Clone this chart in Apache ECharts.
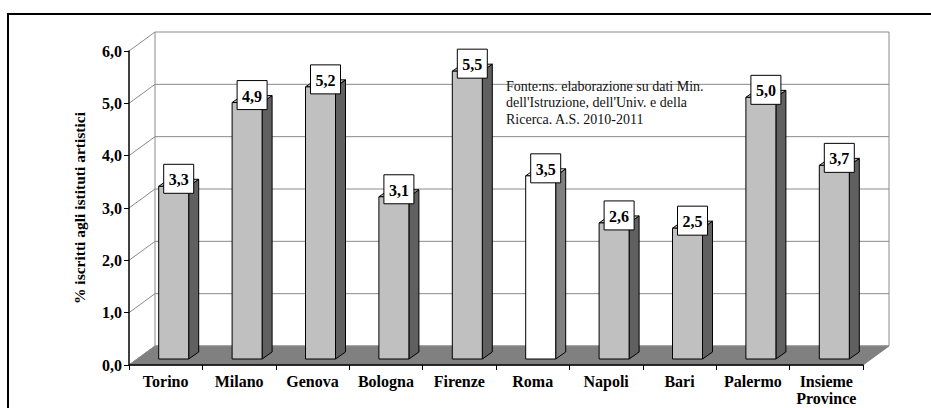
<!DOCTYPE html>
<html>
<head>
<meta charset="utf-8">
<script src="https://cdn.jsdelivr.net/npm/echarts@6/dist/echarts.min.js"></script>
<style>
  html, body { margin: 0; padding: 0; background: #fff; }
  #chart { width: 931px; height: 408px; }
</style>
</head>
<body>
<div id="chart"></div>
<script>
// Iscritti agli istituti artistici, per provincia (%)
const categories = ['Torino', 'Milano', 'Genova', 'Bologna', 'Firenze', 'Roma', 'Napoli', 'Bari', 'Palermo', 'Insieme\nProvince'];
const values = [3.3, 4.9, 5.2, 3.1, 5.5, 3.5, 2.6, 2.5, 5.0, 3.7];
const yTicks = [0, 1, 2, 3, 4, 5, 6];
const highlightCategory = 'Roma';
const axisTitle = '% iscritti agli istituti artistici';
const sourceNote = "Fonte:ns. elaborazione su dati Min.\ndell'Istruzione, dell'Univ. e della\nRicerca. A.S. 2010-2011";

// pseudo-3D geometry (pixels)
const DEPTH = [26, -19];      // floor depth: front edge -> back wall
const BAR_SHIFT = [8, -6];    // bar front face offset into the floor
const BAR_SIDE = [10, -7];    // bar thickness (side/top faces)
const BAR_W = 30;
const SERIF = 'Liberation Serif';

const fmt = v => v.toFixed(1).replace('.', ',');
const yMin = yTicks[0], yMax = yTicks[yTicks.length - 1];

function renderWalls(params, api) {
  const cs = params.coordSys;
  const v = api.value(1);
  const y = api.coord([0, v])[1];
  const x0 = cs.x, x1 = cs.x + cs.width;
  const children = [];
  if (v === yMin) {
    children.push({
      type: 'polygon',
      shape: { points: [[x0, y], [x1, y], [x1 + DEPTH[0], y + DEPTH[1]], [x0 + DEPTH[0], y + DEPTH[1]]] },
      style: { fill: '#808080', stroke: '#808080', lineWidth: 1 }
    });
  }
  children.push({
    type: 'polyline',
    shape: { points: [[x0, y], [x0 + DEPTH[0], y + DEPTH[1]], [x1 + DEPTH[0], y + DEPTH[1]]] },
    style: { stroke: '#8a8a8a', lineWidth: 1, fill: null }
  });
  if (v === yMax) {
    const yb = api.coord([0, yMin])[1];
    children.push({
      type: 'line',
      shape: { x1: x0 + DEPTH[0], y1: y + DEPTH[1], x2: x0 + DEPTH[0], y2: yb + DEPTH[1] },
      style: { stroke: '#8a8a8a', lineWidth: 1 }
    });
    children.push({
      type: 'line',
      shape: { x1: x1 + DEPTH[0], y1: y + DEPTH[1], x2: x1 + DEPTH[0], y2: yb + DEPTH[1] },
      style: { stroke: '#8a8a8a', lineWidth: 1 }
    });
  }
  return { type: 'group', children };
}

function renderBar(params, api) {
  const i = api.value(0), v = api.value(1);
  const base = api.coord([i, 0]);
  const top = api.coord([i, v]);
  const xl = base[0] + BAR_SHIFT[0] - BAR_W / 2;
  const xr = xl + BAR_W;
  const yb = base[1] + BAR_SHIFT[1];
  const yt = top[1] + BAR_SHIFT[1];
  const sx = BAR_SIDE[0], sy = BAR_SIDE[1];
  const special = categories[i] === highlightCategory;
  const front = special ? '#ffffff' : '#c0c0c0';
  const side = special ? '#808080' : '#606060';
  const stroke = { stroke: '#000', lineWidth: 1, lineJoin: 'round' };
  const cx = xl + BAR_W / 2 + sx / 2;
  const cy = yt + sy / 2 - 4;
  return {
    type: 'group',
    children: [
      { type: 'polygon', shape: { points: [[xr, yt], [xr + sx, yt + sy], [xr + sx, yb + sy], [xr, yb]] }, style: Object.assign({ fill: side }, stroke) },
      { type: 'polygon', shape: { points: [[xl, yt], [xr, yt], [xr + sx, yt + sy], [xl + sx, yt + sy]] }, style: Object.assign({ fill: front }, stroke) },
      { type: 'rect', shape: { x: xl, y: yt, width: BAR_W, height: yb - yt }, style: Object.assign({ fill: front }, stroke) },
      { type: 'rect', shape: { x: cx - 15, y: cy - 14.5, width: 30, height: 29 }, style: { fill: '#fff', stroke: '#000', lineWidth: 1 } },
      { type: 'text', x: cx, y: cy + 1, style: { text: fmt(v), fill: '#000', fontFamily: SERIF, fontWeight: 'bold', fontSize: 16, align: 'center', verticalAlign: 'middle' } }
    ]
  };
}

const chart = echarts.init(document.getElementById('chart'), null, { renderer: 'svg' });
chart.setOption({
  animation: false,
  backgroundColor: '#fff',
  grid: { left: 129, right: 68, top: 51, bottom: 43, containLabel: false, outerBoundsMode: 'none' },
  xAxis: {
    type: 'category',
    data: categories,
    boundaryGap: true,
    z: 10,
    axisLine: { show: true, lineStyle: { color: '#000', width: 1.5 } },
    axisTick: { show: true, alignWithLabel: false, length: 5, lineStyle: { color: '#000', width: 1 } },
    splitLine: { show: false },
    axisLabel: { interval: 0, margin: 8, color: '#000', fontFamily: SERIF, fontWeight: 'bold', fontSize: 16, lineHeight: 17 }
  },
  yAxis: {
    type: 'value',
    min: yMin,
    max: yMax,
    interval: 1,
    z: 10,
    axisLine: { show: true, lineStyle: { color: '#000', width: 1.5 } },
    axisTick: { show: true, length: 5, lineStyle: { color: '#000', width: 1 } },
    splitLine: { show: false },
    axisLabel: { formatter: fmt, margin: 7, color: '#000', fontFamily: SERIF, fontWeight: 'bold', fontSize: 16 },
    name: axisTitle,
    nameLocation: 'middle',
    nameGap: 42,
    nameTextStyle: { color: '#000', fontFamily: SERIF, fontWeight: 'bold', fontSize: 15.5 }
  },
  graphic: [
    { type: 'rect', x: 8, y: 14, shape: { width: 940, height: 420 }, style: { fill: null, stroke: '#000', lineWidth: 2 }, silent: true },
    { type: 'text', x: 506, y: 78, style: { text: sourceNote, fill: '#111', fontFamily: SERIF, fontSize: 14, lineHeight: 16.5 }, z: 20 }
  ],
  series: [
    {
      type: 'custom',
      z: 1,
      renderItem: renderWalls,
      data: yTicks.map(t => [0, t]),
      silent: true
    },
    {
      type: 'custom',
      z: 5,
      renderItem: renderBar,
      data: values.map((v, i) => [i, v]),
      silent: true
    }
  ]
});
</script>
</body>
</html>
